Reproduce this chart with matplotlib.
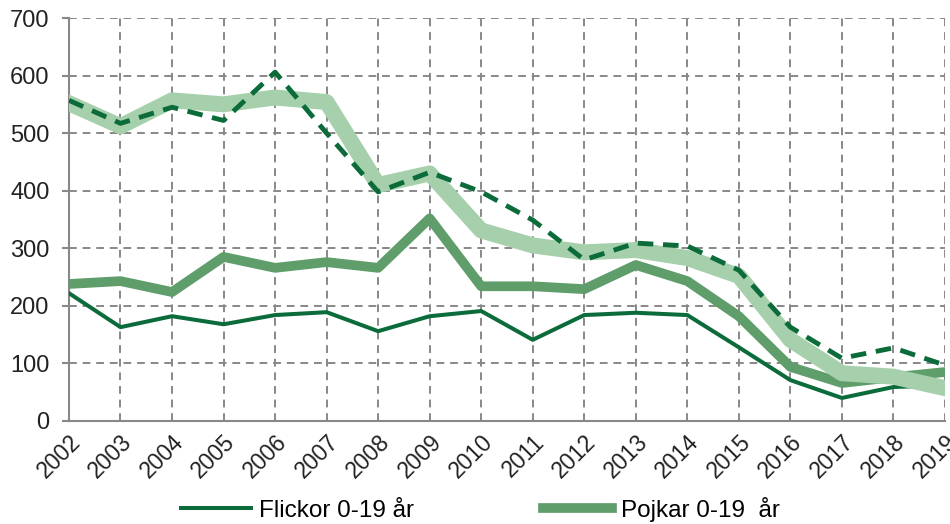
import matplotlib
matplotlib.use('Agg')
import matplotlib.pyplot as plt

plt.rcParams['font.family'] = ['Liberation Sans', 'DejaVu Sans']

years = list(range(2002, 2020))
flickor = [222, 163, 182, 168, 184, 189, 156, 182, 191, 141, 184, 188, 184, 128, 71, 40, 59, 62]
pojkar = [238, 243, 224, 285, 266, 276, 266, 352, 234, 234, 229, 271, 243, 182, 94, 66, 76, 85]
ljus = [552, 512, 557, 550, 562, 554, 410, 430, 331, 305, 293, 297, 283, 252, 141, 83, 77, 57]
streckad = [557, 517, 545, 522, 606, 500, 398, 432, 398, 349, 280, 309, 304, 262, 163, 109, 127, 97]

dark = '#0b6b3a'
mid = '#5f9e6b'
light = '#a6d0ab'

fig = plt.figure(figsize=(9.5, 5.24), dpi=100)
ax = fig.add_axes([0.0726, 0.1966, 0.9221, 0.769])

ax.plot(years, flickor, color=dark, linewidth=2.9, label='Flickor 0-19 år', zorder=3)
ax.plot(years, pojkar, color=mid, linewidth=7, label='Pojkar 0-19  år', zorder=4)
ax.plot(years, ljus, color=light, linewidth=11.5, label='_nolegend_', zorder=5)
ax.plot(years, streckad, color=dark, linewidth=3.5, linestyle=(0, (3.2, 2)),
        label='_nolegend_', zorder=6)

ax.set_xlim(2002, 2019)
ax.set_ylim(0, 700)
ax.set_xticks(years)
ax.set_xticklabels([str(y) for y in years], rotation=45, ha='right',
                   rotation_mode='anchor', fontsize=16.5, color='#222222')
ax.set_yticks(range(0, 701, 100))
ax.tick_params(axis='y', labelsize=17, colors='#888888', length=5, width=1.5,
               labelcolor='#222222', pad=9)
ax.tick_params(axis='x', length=0, pad=7)

ax.grid(True, color='#888888', linestyle=(0, (4, 3)), linewidth=1.4)
ax.set_axisbelow(True)
for s in ['top', 'right']:
    ax.spines[s].set_visible(False)
for s in ['left', 'bottom']:
    ax.spines[s].set_color('#888888')
    ax.spines[s].set_linewidth(1.5)

fig.legend(loc='lower left', bbox_to_anchor=(0.168, -0.037), ncol=2, frameon=False,
           fontsize=17.5, handlelength=2.85, handletextpad=0.35, columnspacing=5.3)

fig.savefig('out.png', dpi=100)
